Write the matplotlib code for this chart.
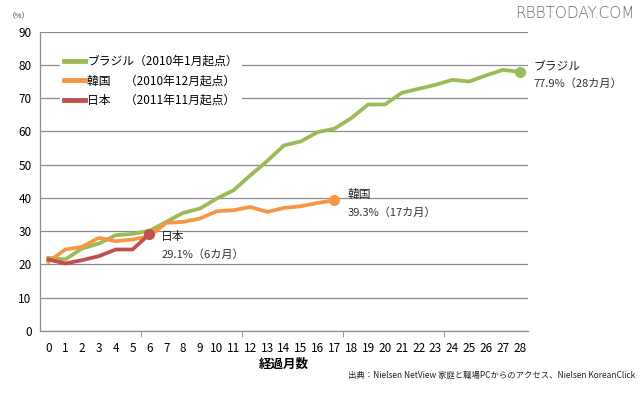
import numpy as np
import matplotlib
matplotlib.use("Agg")
import matplotlib.pyplot as plt

plt.rcParams['font.family'] = ['Noto Sans CJK JP', 'DejaVu Sans']

# =====================
# Data
# =====================
months = list(range(29))
brazil = [22.0, 21.5, 24.8, 26.3, 28.8, 29.2, 30.1, 32.8, 35.5, 36.8,
          39.8, 42.3, 46.8, 51.1, 55.8, 57.0, 59.8, 60.8, 64.0, 68.1,
          68.1, 71.6, 72.8, 74.0, 75.5, 75.0, 76.8, 78.5, 77.9]
korea = [20.8, 24.5, 25.3, 28.0, 27.0, 27.5, 28.5, 32.5, 32.8, 33.8,
         36.0, 36.3, 37.3, 35.8, 37.0, 37.5, 38.5, 39.3]
japan = [21.5, 20.3, 21.3, 22.5, 24.5, 24.5, 29.1]

legend_labels = ["ブラジル（2010年1月起点）", "韓国　 （2010年12月起点）", "日本　 （2011年11月起点）"]
end_labels = [("ブラジル", "77.9%（28カ月）"), ("韓国", "39.3%（17カ月）"), ("日本", "29.1%（6カ月）")]

GREEN = "#9BBB59"
ORANGE = "#F79646"
RED = "#C0504D"
GRID = "#8c8c8c"

# =====================
# Plot
# =====================
fig = plt.figure(figsize=(6.4, 3.95), dpi=100)
ax = fig.add_axes([0.0625, 0.162, 0.7625, 0.758])

series = [(brazil, GREEN), (korea, ORANGE), (japan, RED)]
handles = []
for vals, col in series:
    x = months[:len(vals)]
    h, = ax.plot(x, vals, color=col, lw=2.7, solid_joinstyle='round', zorder=3)
    ax.plot(x[-1], vals[-1], 'o', color=col, ms=7, zorder=4)
    handles.append(h)

ax.set_xlim(-0.5, 28.5)
ax.set_ylim(0, 90)
ax.set_yticks(range(0, 91, 10))
ax.yaxis.grid(True, color=GRID, lw=0.9)
ax.set_axisbelow(True)
ax.tick_params(axis='y', length=0, labelsize=8.5, pad=6)

# category labels, tick marks every 6 boundaries
ax.set_xticks(months)
ax.set_xticklabels([str(m) for m in months])
ax.set_xticks([5.5, 11.5, 17.5, 23.5], minor=True)
ax.tick_params(axis='x', which='major', length=0, labelsize=8.5, pad=8)
ax.tick_params(axis='x', which='minor', length=4, color=GRID, direction='out')
ax.set_xlabel("経過月数", fontsize=9, fontweight='bold', labelpad=2)

for side in ['top', 'right']:
    ax.spines[side].set_visible(False)
for side in ['left', 'bottom']:
    ax.spines[side].set_color(GRID)
    ax.spines[side].set_linewidth(0.9)

# end labels
offsets = [(0.8, 1.9), (0.8, 1.6), (0.7, -0.8)]
for (vals, col), (name, pct), (dx, dy) in zip(series, end_labels, offsets):
    xe = len(vals) - 1
    ax.text(xe + dx, vals[-1] + dy, name, fontsize=8.5, color="#222222",
            va='center', ha='left')
    ax.text(xe + dx, vals[-1] + dy - 5.3, pct, fontsize=8, color="#333333",
            va='center', ha='left')

leg = ax.legend(handles, legend_labels, loc='upper left', bbox_to_anchor=(0.085, 0.885),
                bbox_transform=fig.transFigure, frameon=True, fancybox=False,
                edgecolor='none', facecolor='white', framealpha=1,
                fontsize=8.5, handlelength=1.8, handletextpad=0.2, labelspacing=0.55,
                borderpad=0.3)
for line in leg.get_lines():
    line.set_linewidth(3.5)

fig.text(0.03, 0.958, "（%）", fontsize=5.5, color="#333333", ha='center', va='center')
fig.text(0.992, 0.965, "RBBTODAY.COM", fontsize=11, color="#6e6e6e", ha='right', va='center',
         fontfamily='DejaVu Sans', fontweight='light')
fig.text(0.992, 0.05, "出典：Nielsen NetView 家庭と職場PCからのアクセス、Nielsen KoreanClick",
         fontsize=6, color="#222222", ha='right', va='center')

fig.savefig("out.png", dpi=100)
